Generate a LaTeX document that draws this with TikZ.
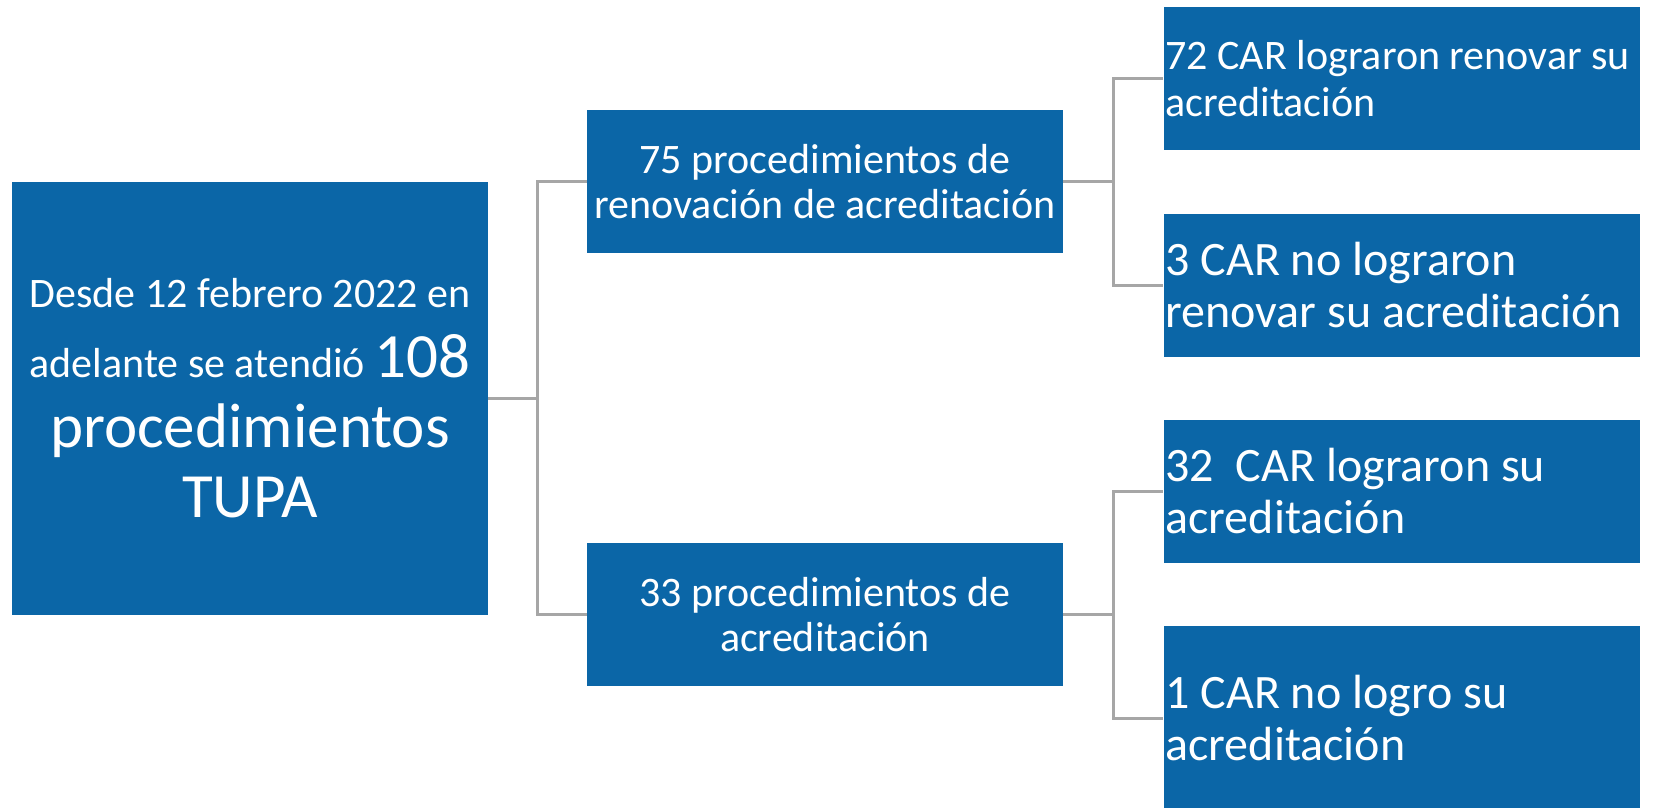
\documentclass[tikz,border=0pt]{standalone}
\usepackage{fontspec}
\setmainfont{Carlito}
\usetikzlibrary{positioning}

\definecolor{boxblue}{HTML}{0B66A7}
\definecolor{linkgray}{HTML}{A6A6A6}

\tikzset{
  box/.style={fill=boxblue, text=white, minimum width=238pt, minimum height=71.5pt, inner sep=1.5pt},
  midbox/.style={box, align=center, font=\fontsize{21}{22.5}\selectfont},
  leafbox/.style={box, inner xsep=1pt, align=flush left, text width=236pt, font=\fontsize{24}{26}\selectfont},
  link/.style={draw=linkgray, line width=1.5pt}
}
\newcommand{\bignum}{\fontsize{31.5}{35}\selectfont}

\begin{document}
\begin{tikzpicture}[x=0.5pt, y=-0.5pt]
  \useasboundingbox (0,0) rectangle (1654,808);
  % tree, positions in pixels of the original slide
  \node[box, minimum height=216.5pt, align=center, font=\fontsize{21}{35}\selectfont] (root) at (250,398)
       {Desde 12 febrero 2022 en\\ adelante se atendió {\bignum 108}\\ {\bignum procedimientos}\\ {\bignum TUPA}};
  \node[midbox]  (mid1)  at (825,181.5) {75 procedimientos de\\ renovación de acreditación};
  \node[midbox]  (mid2)  at (825,614.5) {33 procedimientos de\\ acreditación};
  \node[leafbox, font=\fontsize{21}{23.3}\selectfont] (leaf1) at (1401.5,78.7) {72 CAR lograron renovar su\\ acreditación};
  \node[leafbox] (leaf2) at (1401.5,285)  {3 CAR no lograron\\ renovar su acreditación};
  \node[leafbox] (leaf3) at (1401.5,491)  {32\ \ CAR lograron su\\ acreditación};
  \node[leafbox, minimum height=92pt] (leaf4) at (1401.5,718) {1 CAR no logro su\\ acreditación};

  \coordinate (j1) at (537.7,398);
  \coordinate (j2) at (1113,181.5);
  \coordinate (j3) at (1113,614.5);

  \draw[link] (root.east) -- (j1) |- (mid1.west);
  \draw[link] (j1) |- (mid2.west);
  \draw[link] (mid1.east) -- (j2) |- (leaf1.west);
  \draw[link] (j2) |- (leaf2.west);
  \draw[link] (mid2.east) -- (j3) |- (leaf3.west);
  \draw[link] (j3) |- (leaf4.west);
\end{tikzpicture}
\end{document}
